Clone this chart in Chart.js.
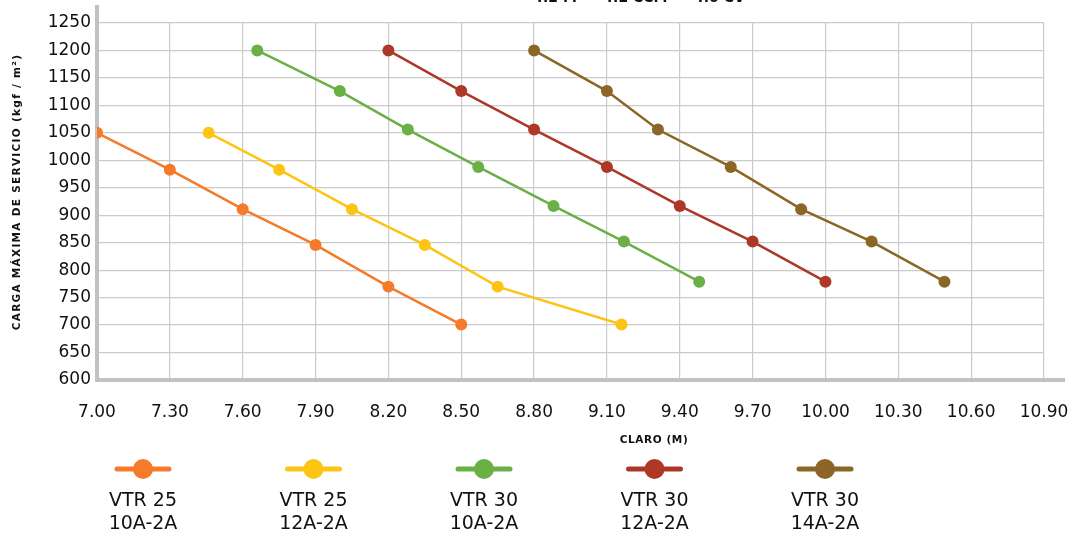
<!DOCTYPE html>
<html>
<head>
<meta charset="utf-8">
<script src="https://cdn.jsdelivr.net/npm/chart.js@4.4.1/dist/chart.umd.min.js"></script>
<style>
    html, body { margin: 0; padding: 0; background: #ffffff; }
    #wrap { width: 1077px; height: 536px; position: relative; }
</style>
</head>
<body>
<div id="wrap"><canvas id="claroChart"></canvas></div>
<script>

// --------------------------------------------
// Data
// --------------------------------------------

const seriesNames = [
    ["VTR 25", "10A-2A"],
    ["VTR 25", "12A-2A"],
    ["VTR 30", "10A-2A"],
    ["VTR 30", "12A-2A"],
    ["VTR 30", "14A-2A"]
];

const seriesColors = ["#f37b2a", "#fdc414", "#6ab045", "#ad3828", "#8b6626"];

const vtr25a10X = [7.00, 7.30, 7.60, 7.90, 8.20, 8.50];
const vtr25a10Y = [1050, 983, 911, 846, 770, 701];

const vtr25a12X = [7.46, 7.75, 8.05, 8.35, 8.65, 9.16];
const vtr25a12Y = [1050, 983, 911, 846, 770, 701];

const vtr30a10X = [7.66, 8.00, 8.28, 8.57, 8.88, 9.17, 9.48];
const vtr30a10Y = [1200, 1126, 1056, 988, 917, 852, 779];

const vtr30a12X = [8.20, 8.50, 8.80, 9.10, 9.40, 9.70, 10.00];
const vtr30a12Y = [1200, 1126, 1056, 988, 917, 852, 779];

const vtr30a14X = [8.80, 9.10, 9.31, 9.61, 9.90, 10.19, 10.49];
const vtr30a14Y = [1200, 1126, 1056, 988, 911, 852, 779];

const xTicks = [7.00, 7.30, 7.60, 7.90, 8.20, 8.50, 8.80, 9.10, 9.40, 9.70, 10.00, 10.30, 10.60, 10.90];

const yTicks = [600, 650, 700, 750, 800, 850, 900, 950, 1000, 1050, 1100, 1150, 1200, 1250];

const topTitle = "4.2 M  –  4.2 CCM  –  4.0 CV";
const xTitle = "CLARO (M)";
const yTitle = "CARGA MÁXIMA DE SERVICIO (kgf / m²)";

const FONT = "'DejaVu Sans', sans-serif";


// --------------------------------------------
// Helpers
// --------------------------------------------

function toPoints(xs, ys) {
    return xs.map((x, i) => ({ x: x, y: ys[i] }));
}

function makeDataset(i, xs, ys) {
    return {
        label: seriesNames[i].join(" "),
        data: toPoints(xs, ys),
        borderColor: seriesColors[i],
        backgroundColor: seriesColors[i],
        pointBackgroundColor: seriesColors[i],
        pointBorderWidth: 0,
        pointRadius: 6,
        borderWidth: 2.5,
        tension: 0
    };
}


// --------------------------------------------
// Extra drawing: axis bars, titles, legend
// --------------------------------------------

const decorPlugin = {

    id: "decor",

    beforeDatasetsDraw(chart) {
        const ctx = chart.ctx;
        const area = chart.chartArea;
        ctx.save();
        ctx.strokeStyle = "#c2c2c2";
        ctx.lineWidth = 4;
        ctx.beginPath();
        ctx.moveTo(area.left, 5);
        ctx.lineTo(area.left, area.bottom + 2);
        ctx.moveTo(area.left - 2, area.bottom);
        ctx.lineTo(1065, area.bottom);
        ctx.stroke();
        ctx.restore();
    },

    afterDraw(chart) {
        const ctx = chart.ctx;
        const area = chart.chartArea;
        ctx.save();

        // cut-off heading at the very top
        ctx.fillStyle = "#111111";
        ctx.font = "bold 14px " + FONT;
        ctx.textAlign = "center";
        ctx.textBaseline = "alphabetic";
        ctx.fillText(topTitle, 639, 2);

        // axis titles
        ctx.font = "bold 10.5px " + FONT;
        ctx.letterSpacing = "0.6px";
        ctx.textBaseline = "middle";
        ctx.fillText(xTitle, 654, 440);

        ctx.letterSpacing = "1.3px";
        ctx.translate(17, 192);
        ctx.rotate(-Math.PI / 2);
        ctx.fillText(yTitle, 0, 0);
        ctx.setTransform(1, 0, 0, 1, 0, 0);
        ctx.letterSpacing = "0px";

        // legend
        chart.data.datasets.forEach((ds, i) => {
            const cx = 143 + i * 170.5;
            ctx.strokeStyle = ds.borderColor;
            ctx.lineWidth = 5;
            ctx.lineCap = "round";
            ctx.beginPath();
            ctx.moveTo(cx - 26, 469);
            ctx.lineTo(cx + 26, 469);
            ctx.stroke();
            ctx.fillStyle = ds.borderColor;
            ctx.beginPath();
            ctx.arc(cx, 469, 10, 0, Math.PI * 2);
            ctx.fill();

            ctx.fillStyle = "#111111";
            ctx.font = "19px " + FONT;
            ctx.textAlign = "center";
            ctx.fillText(seriesNames[i][0], cx, 501);
            ctx.fillText(seriesNames[i][1], cx, 524);
        });

        ctx.restore();
    }

};


// --------------------------------------------
// Chart
// --------------------------------------------

new Chart(

    document.getElementById("claroChart"),

    {

        type: "line",

        data: {

            datasets: [
                makeDataset(0, vtr25a10X, vtr25a10Y),
                makeDataset(1, vtr25a12X, vtr25a12Y),
                makeDataset(2, vtr30a10X, vtr30a10Y),
                makeDataset(3, vtr30a12X, vtr30a12Y),
                makeDataset(4, vtr30a14X, vtr30a14Y)
            ]

        },

        options: {

            responsive: true,

            maintainAspectRatio: false,

            animation: false,

            layout: {
                padding: { top: 23, right: 33, bottom: 0, left: 0 }
            },

            plugins: {
                legend: { display: false },
                tooltip: { enabled: false }
            },

            scales: {

                x: {
                    type: "linear",
                    min: xTicks[0],
                    max: xTicks[xTicks.length - 1],
                    afterBuildTicks: scale => {
                        scale.ticks = xTicks.map(v => ({ value: v }));
                    },
                    afterFit: scale => {
                        scale.height = 156;
                        scale.paddingRight = 0;
                        scale.paddingLeft = 0;
                    },
                    border: { display: false },
                    grid: {
                        color: "#cbcbcb",
                        lineWidth: 1.2,
                        drawTicks: false
                    },
                    ticks: {
                        color: "#111111",
                        padding: 22,
                        maxRotation: 0,
                        autoSkip: false,
                        font: { family: FONT, size: 17 },
                        callback: value => value.toFixed(2)
                    }
                },

                y: {
                    type: "linear",
                    min: yTicks[0],
                    max: yTicks[yTicks.length - 1],
                    afterBuildTicks: scale => {
                        scale.ticks = yTicks.map(v => ({ value: v }));
                    },
                    afterFit: scale => {
                        scale.width = 97;
                        scale.paddingTop = 0;
                        scale.paddingBottom = 0;
                    },
                    border: { display: false },
                    grid: {
                        color: "#cbcbcb",
                        lineWidth: 1.2,
                        drawTicks: false
                    },
                    ticks: {
                        color: "#111111",
                        padding: 6,
                        autoSkip: false,
                        font: { family: FONT, size: 17 },
                        callback: value => String(value)
                    }
                }

            }

        },

        plugins: [decorPlugin]

    }

);

</script>
</body>
</html>
